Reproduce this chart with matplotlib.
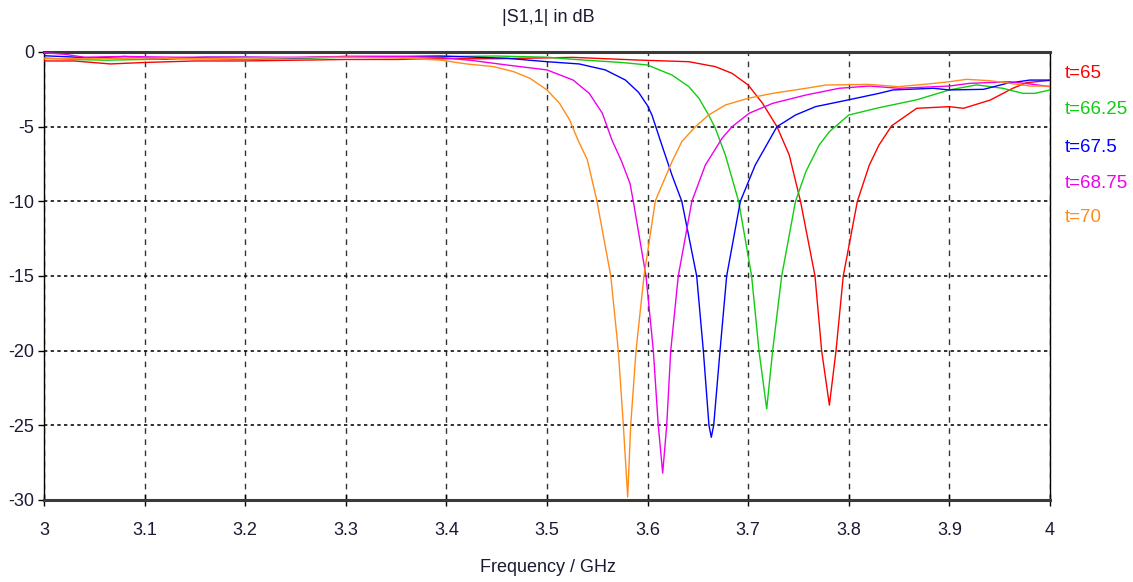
import matplotlib
matplotlib.use("Agg")
import matplotlib.pyplot as plt

plt.rcParams['font.family'] = ['Liberation Sans', 'DejaVu Sans']

# |S1,1| sweep over the parameter t (frequency in GHz, magnitude in dB)
freq_t65 = [3.00, 3.03, 3.066, 3.10, 3.15, 3.20, 3.25, 3.30, 3.35, 3.40, 3.45, 3.526,
            3.591, 3.641, 3.6673, 3.684, 3.70, 3.7143, 3.7286, 3.7408, 3.752, 3.7664,
            3.773, 3.7807, 3.7873, 3.7945, 3.8085, 3.8204, 3.83, 3.8426, 3.8675, 3.90,
            3.914, 3.9405, 3.963, 3.977, 4.00]
s11_t65 = [-0.60, -0.60, -0.80, -0.70, -0.60, -0.60, -0.55, -0.50, -0.50, -0.45, -0.45, -0.36,
           -0.54, -0.65, -0.98, -1.43, -2.21, -3.44, -5.00, -6.90, -10.0, -15.0,
           -20.0, -23.65, -20.0, -15.0, -10.0, -7.57, -6.23, -4.94, -3.77, -3.66,
           -3.77, -3.22, -2.43, -2.05, -1.90]

freq_t66_25 = [3.00, 3.03, 3.06, 3.10, 3.15, 3.20, 3.25, 3.30, 3.40, 3.45, 3.50, 3.526,
               3.5755, 3.60, 3.6077, 3.6242, 3.641, 3.651, 3.6607, 3.6673, 3.6773, 3.6905,
               3.7034, 3.7107, 3.7184, 3.7243, 3.7333, 3.747, 3.7574, 3.7706, 3.7806, 3.80,
               3.83, 3.8675, 3.90, 3.927, 3.953, 3.973, 3.985, 4.00]
s11_t66_25 = [-0.40, -0.50, -0.55, -0.50, -0.45, -0.50, -0.45, -0.35, -0.30, -0.27, -0.35, -0.49,
              -0.71, -0.87, -1.09, -1.54, -2.32, -3.10, -4.22, -5.10, -6.90, -10.0,
              -15.0, -20.0, -23.9, -20.0, -15.0, -10.0, -8.00, -6.23, -5.34, -4.22,
              -3.73, -3.20, -2.54, -2.20, -2.43, -2.77, -2.77, -2.54]

freq_t67_5 = [3.00, 3.05, 3.08, 3.12, 3.16, 3.20, 3.25, 3.30, 3.35, 3.394, 3.46, 3.50,
              3.532, 3.558, 3.578, 3.591, 3.60, 3.6043, 3.614, 3.6242, 3.634, 3.6488,
              3.6554, 3.661, 3.6633, 3.6657, 3.672, 3.6786, 3.6922, 3.707, 3.7286, 3.747,
              3.7669, 3.80, 3.83, 3.844, 3.884, 3.90, 3.934, 3.957, 3.98, 4.00]
s11_t67_5 = [-0.25, -0.40, -0.30, -0.45, -0.35, -0.35, -0.40, -0.30, -0.30, -0.27, -0.42, -0.65,
             -0.80, -1.20, -1.88, -2.70, -3.60, -4.22, -6.20, -8.24, -10.0, -15.0,
             -20.0, -25.0, -25.8, -25.0, -20.0, -15.0, -10.0, -7.57, -5.00, -4.22,
             -3.66, -3.20, -2.77, -2.54, -2.43, -2.54, -2.50, -2.10, -1.88, -1.88]

freq_t68_75 = [3.00, 3.02, 3.04, 3.08, 3.13, 3.18, 3.25, 3.30, 3.35, 3.394, 3.427, 3.46,
               3.50, 3.526, 3.542, 3.555, 3.5646, 3.574, 3.5825, 3.5858, 3.5984, 3.6057,
               3.6106, 3.615, 3.619, 3.623, 3.6305, 3.644, 3.6574, 3.674, 3.684, 3.701,
               3.7242, 3.7574, 3.7905, 3.8204, 3.85, 3.90, 3.92, 3.96, 3.98, 4.00]
s11_t68_75 = [-0.05, -0.15, -0.35, -0.30, -0.35, -0.35, -0.35, -0.30, -0.30, -0.36, -0.58, -0.87,
              -1.20, -1.88, -2.77, -4.10, -5.90, -7.30, -8.80, -10.0, -15.0, -20.0,
              -25.0, -28.2, -25.0, -20.0, -15.0, -10.0, -7.57, -5.78, -5.00, -4.10,
              -3.44, -2.88, -2.43, -2.28, -2.43, -2.28, -2.10, -1.99, -2.14, -2.32]

freq_t70 = [3.00, 3.05, 3.10, 3.15, 3.20, 3.25, 3.30, 3.35, 3.394, 3.42, 3.447, 3.467,
            3.483, 3.50, 3.5125, 3.5225, 3.5308, 3.54, 3.5494, 3.5634, 3.5709, 3.5759,
            3.5802, 3.5832, 3.5885, 3.5964, 3.6077, 3.6242, 3.634, 3.6475, 3.6607, 3.6773,
            3.70, 3.7242, 3.7574, 3.7773, 3.8204, 3.849, 3.879, 3.90, 3.917, 3.94,
            3.96, 3.98, 4.00]
s11_t70 = [-0.45, -0.45, -0.40, -0.45, -0.40, -0.38, -0.35, -0.40, -0.54, -0.80, -0.98, -1.32,
           -1.76, -2.54, -3.44, -4.55, -5.90, -7.20, -9.90, -15.0, -20.0, -25.0,
           -29.8, -25.0, -20.0, -15.0, -9.96, -7.35, -6.00, -5.00, -4.22, -3.55,
           -3.10, -2.77, -2.43, -2.21, -2.17, -2.32, -2.14, -1.99, -1.83, -1.92,
           -2.10, -2.28, -2.28]

series_labels = ["t=65", "t=66.25", "t=67.5", "t=68.75", "t=70"]
series_colors = ["#ff0000", "#11cc11", "#0000ff", "#ee00ee", "#ff8c1a"]
series_freq = [freq_t65, freq_t66_25, freq_t67_5, freq_t68_75, freq_t70]
series_s11 = [s11_t65, s11_t66_25, s11_t67_5, s11_t68_75, s11_t70]

x_ticks = [3.0, 3.1, 3.2, 3.3, 3.4, 3.5, 3.6, 3.7, 3.8, 3.9, 4.0]
x_tick_labels = ["3", "3.1", "3.2", "3.3", "3.4", "3.5", "3.6", "3.7", "3.8", "3.9", "4"]
y_ticks = [0, -5, -10, -15, -20, -25, -30]
y_tick_labels = ["0", "-5", "-10", "-15", "-20", "-25", "-30"]

W, H = 1133, 582
fig = plt.figure(figsize=(W / 100, H / 100), dpi=100)
ax = fig.add_axes([44 / W, 1 - 500 / H, (1050 - 44) / W, (500 - 52) / H])

for f, s, c in zip(series_freq, series_s11, series_colors):
    ax.plot(f, s, color=c, lw=1.0, zorder=3, solid_joinstyle='round')

ax.set_xlim(3.0, 4.0)
ax.set_ylim(-30, 0)
ax.set_xticks(x_ticks)
ax.set_xticklabels(x_tick_labels)
ax.set_yticks(y_ticks)
ax.set_yticklabels(y_tick_labels)

text_color = "#1a1a33"
ax.tick_params(axis='x', direction='inout', length=9, width=1, colors='black',
               labelcolor=text_color, labelsize=13, pad=11)
ax.tick_params(axis='y', direction='out', length=4, width=1, colors='black',
               labelcolor=text_color, labelsize=13, pad=3)

ax.xaxis.grid(True, linestyle=(0, (4, 4)), color='#333333', lw=1.0)
ax.yaxis.grid(True, linestyle=(0, (2, 2)), color='#111111', lw=1.2)
ax.set_axisbelow(True)

for side in ("left", "right"):
    ax.spines[side].set_color("black")
    ax.spines[side].set_linewidth(1.0)
for side in ("top", "bottom"):
    ax.spines[side].set_color("#3a3a3a")
    ax.spines[side].set_linewidth(2.2)

fig.text(548 / W, 1 - 18 / H, "|S1,1| in dB", ha='center', va='center',
         fontsize=13, color=text_color)
fig.text(548 / W, 1 - 567 / H, "Frequency / GHz", ha='center', va='center',
         fontsize=13, color=text_color)

legend_y = [73, 110, 147, 183, 218]
for lab, c, yy in zip(series_labels, series_colors, legend_y):
    fig.text(1065 / W, 1 - yy / H, lab, ha='left', va='center', fontsize=13.5, color=c)

fig.savefig("out.png", dpi=100)
